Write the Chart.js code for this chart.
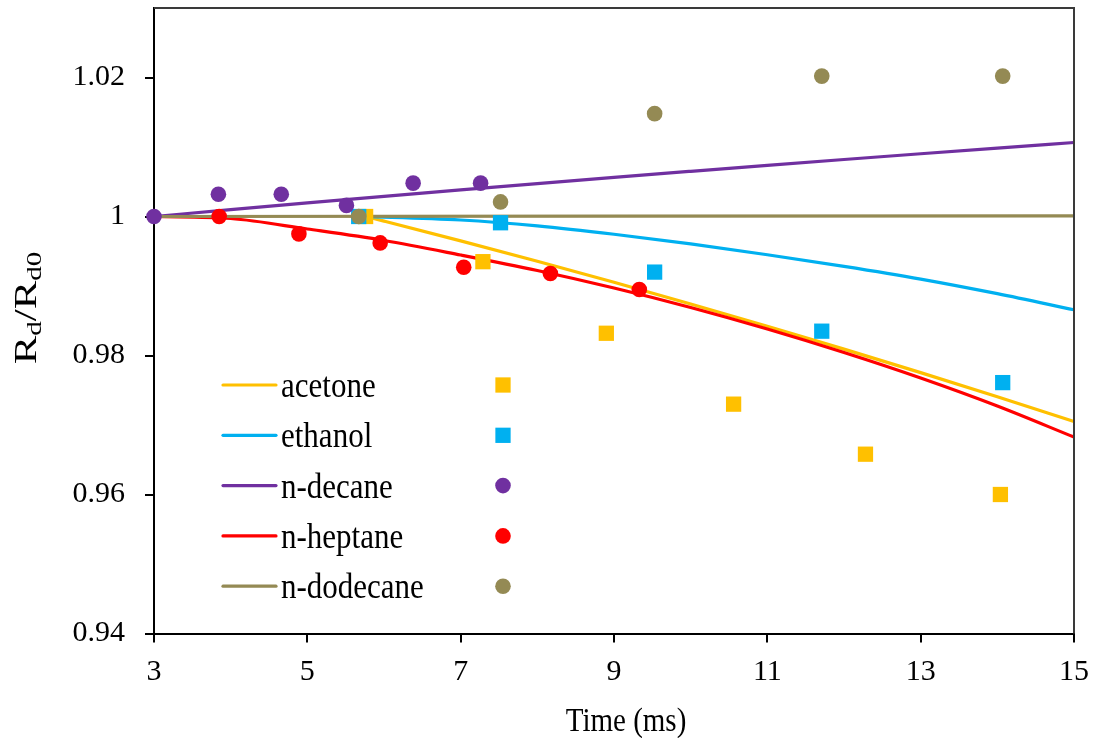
<!DOCTYPE html>
<html>
<head>
<meta charset="utf-8">
<script src="https://cdn.jsdelivr.net/npm/chart.js@4/dist/chart.umd.min.js"></script>
<style>
html,body{margin:0;padding:0;background:#fff;}
#wrap{width:1100px;height:738px;position:relative;}
</style>
</head>
<body>
<div id="wrap"><canvas id="c" width="1100" height="738"></canvas></div>
<script>
// ---- data ----
const seriesNames = ['acetone', 'ethanol', 'n-decane', 'n-heptane', 'n-dodecane'];
const seriesColors = ['#FFC000', '#00B0F0', '#7030A0', '#FF0000', '#948A54'];
const seriesMarkers = ['rect', 'rect', 'circle', 'circle', 'circle'];

// measured points
const acetoneX = [5.76, 7.29, 8.90, 10.56, 12.28, 14.04];
const acetoneY = [1.0, 0.9935, 0.9832, 0.9730, 0.9658, 0.9600];
const ethanolX = [5.67, 7.52, 9.53, 11.71, 14.07];
const ethanolY = [1.0, 0.9991, 0.9920, 0.9835, 0.9761];
const decaneX = [3.0, 3.84, 4.66, 5.51, 6.38, 7.26];
const decaneY = [1.0, 1.0032, 1.0032, 1.0016, 1.0048, 1.0048];
const heptaneX = [3.85, 4.89, 5.95, 7.04, 8.17, 9.33];
const heptaneY = [1.0, 0.9975, 0.9962, 0.9927, 0.9918, 0.9895];
const dodecaneX = [5.67, 7.52, 9.53, 11.71, 14.07];
const dodecaneY = [1.0, 1.0021, 1.0148, 1.0202, 1.0202];

// model curves
const acetoneLineX = [5.76, 6, 7, 8, 9, 10, 11, 12, 13, 14, 15];
const acetoneLineY = [1.0, 0.99933, 0.99649, 0.99355, 0.99053, 0.98741, 0.98422, 0.98092, 0.97754, 0.97406, 0.97050];
const ethanolLineX = [5.67, 6, 7, 8, 9, 10, 11, 12, 13, 14, 15];
const ethanolLineY = [1.0, 0.99992, 0.9995, 0.99865, 0.99745, 0.99605, 0.9945, 0.99283, 0.99100, 0.98890, 0.98658];
const decaneLineX = [3, 4, 5, 6, 7, 8, 9, 10, 11, 12, 13, 14, 15];
const decaneLineY = [1.0, 1.00098, 1.00195, 1.0029, 1.00383, 1.00474, 1.00563, 1.0065, 1.00736, 1.0082, 1.00903, 1.00985, 1.01065];
const heptaneLineX = [3, 4, 5, 6, 7, 8, 9, 10, 11, 12, 13, 14, 15];
const heptaneLineY = [1.0, 0.99971, 0.9982, 0.99655, 0.99446, 0.99223, 0.98971, 0.98691, 0.98381, 0.98043, 0.97676, 0.97273, 0.96826];
const dodecaneLineX = [3, 15];
const dodecaneLineY = [1.0, 1.0001];

// axes
const xTickValues = [3, 5, 7, 9, 11, 13, 15];
const xTickLabels = ['3', '5', '7', '9', '11', '13', '15'];
const yTickValues = [0.94, 0.96, 0.98, 1.0, 1.02];
const yTickLabels = ['0.94', '0.96', '0.98', '1', '1.02'];
const xTitle = 'Time (ms)';

// ---- build ----
const FONT = "'Liberation Serif', 'Times New Roman', serif";
const zip = (xs, ys) => xs.map((x, i) => ({x: x, y: ys[i]}));
const pointSets = [zip(acetoneX, acetoneY), zip(ethanolX, ethanolY), zip(decaneX, decaneY), zip(heptaneX, heptaneY), zip(dodecaneX, dodecaneY)];
const lineSets = [zip(acetoneLineX, acetoneLineY), zip(ethanolLineX, ethanolLineY), zip(decaneLineX, decaneLineY), zip(heptaneLineX, heptaneLineY), zip(dodecaneLineX, dodecaneLineY)];

const CIRCLE_R = 7.8, RECT_R = 10.8;
const datasets = [];
lineSets.forEach((d, i) => {
  datasets.push({
    label: seriesNames[i] + ' model', data: d, showLine: true,
    borderColor: seriesColors[i], backgroundColor: seriesColors[i], borderWidth: 3.2,
    pointRadius: 0, pointHoverRadius: 0, cubicInterpolationMode: 'monotone',
    clip: false, order: 10 - i
  });
});
pointSets.forEach((d, i) => {
  datasets.push({
    label: seriesNames[i], data: d, showLine: false,
    backgroundColor: seriesColors[i], borderColor: seriesColors[i], borderWidth: 0,
    pointStyle: seriesMarkers[i], pointRadius: seriesMarkers[i] === 'rect' ? RECT_R : CIRCLE_R,
    pointBorderWidth: 0, clip: false, order: 5 - i
  });
});

function stretchedText(ctx, text, x, y, font, sy) {
  ctx.save();
  ctx.translate(x, y);
  ctx.scale(1, sy);
  ctx.font = font;
  ctx.fillText(text, 0, 0);
  ctx.restore();
}

const decorPlugin = {
  id: 'decor',
  afterDraw(chart) {
    const ctx = chart.ctx, a = chart.chartArea;
    ctx.save();
    // top/right frame
    ctx.strokeStyle = '#3a3a3a'; ctx.lineWidth = 2;
    ctx.beginPath();
    ctx.moveTo(a.left, a.top); ctx.lineTo(a.right, a.top); ctx.lineTo(a.right, a.bottom);
    ctx.stroke();

    // legend
    const rowY0 = 385, rowDy = 50.3;
    seriesNames.forEach((n, i) => {
      const y = rowY0 + i * rowDy;
      ctx.strokeStyle = seriesColors[i]; ctx.lineWidth = 3.2; ctx.lineCap = 'round';
      ctx.beginPath(); ctx.moveTo(223, y); ctx.lineTo(276, y); ctx.stroke();
      ctx.fillStyle = '#000'; ctx.textAlign = 'left'; ctx.textBaseline = 'alphabetic';
      stretchedText(ctx, n, 281, y + 12, '31px ' + FONT, 1.16);
      ctx.fillStyle = seriesColors[i];
      if (seriesMarkers[i] === 'rect') {
        const s = RECT_R * Math.SQRT1_2;
        ctx.fillRect(503 - s, y - s, 2 * s, 2 * s);
      } else {
        ctx.beginPath(); ctx.arc(503, y, CIRCLE_R, 0, Math.PI * 2); ctx.fill();
      }
    });

    // x title
    ctx.fillStyle = '#000'; ctx.textAlign = 'center'; ctx.textBaseline = 'alphabetic';
    stretchedText(ctx, xTitle, 626, 731, '29px ' + FONT, 1.18);

    // y title R_d/R_d0 rotated (text stretched along its length)
    const big = '31px ' + FONT, small = '21px ' + FONT;
    const parts = [['R', big, 0], ['d', small, 5], ['/', big, 0], ['R', big, 0], ['d0', small, 5]];
    const sx = 1.38;
    let total = 0;
    parts.forEach(p => { ctx.font = p[1]; total += ctx.measureText(p[0]).width; });
    ctx.translate(36, 308);
    ctx.rotate(-Math.PI / 2);
    ctx.scale(sx, 1);
    let x = -total / 2;
    ctx.textAlign = 'left';
    parts.forEach(p => { ctx.font = p[1]; ctx.fillText(p[0], x, p[2]); x += ctx.measureText(p[0]).width; });
    ctx.restore();
  }
};

new Chart(document.getElementById('c'), {
  type: 'scatter',
  data: {datasets: datasets},
  options: {
    responsive: false, animation: false, devicePixelRatio: 1,
    layout: {autoPadding: false, padding: {top: 8, right: 26, left: 0, bottom: 0}},
    plugins: {legend: {display: false}, tooltip: {enabled: false}, title: {display: false}},
    events: [],
    scales: {
      x: {
        type: 'linear', min: 3, max: 15,
        afterBuildTicks: s => { s.ticks = xTickValues.map(v => ({value: v})); },
        afterFit: s => { s.height = 104.5; s.paddingLeft = 0; s.paddingRight = 0; },
        ticks: {color: '#000', font: {family: FONT, size: 30}, padding: 12, maxRotation: 0, autoSkip: false,
                callback: (v, i) => xTickLabels[i]},
        grid: {drawOnChartArea: false, drawTicks: true, tickLength: 9, color: '#000', lineWidth: 2},
        border: {display: true, color: '#000', width: 2}
      },
      y: {
        type: 'linear', min: 0.94, max: 1.03,
        afterBuildTicks: s => { s.ticks = yTickValues.map(v => ({value: v})); },
        afterFit: s => { s.width = 154; s.paddingTop = 0; s.paddingBottom = 0; },
        ticks: {color: '#000', font: {family: FONT, size: 30}, padding: 20, autoSkip: false,
                callback: (v, i) => yTickLabels[i]},
        grid: {drawOnChartArea: false, drawTicks: true, tickLength: 9, color: '#000', lineWidth: 2},
        border: {display: true, color: '#000', width: 2}
      }
    }
  },
  plugins: [decorPlugin]
});
</script>
</body>
</html>
